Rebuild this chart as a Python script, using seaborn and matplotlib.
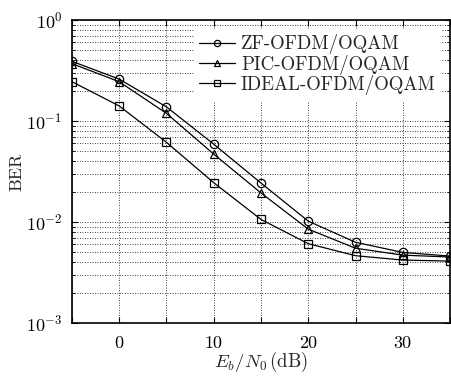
import matplotlib
matplotlib.use("Agg")
import matplotlib.pyplot as plt
import matplotlib.ticker as mticker
import numpy as np
import pandas as pd
import seaborn as sns

snr_db = [-5, 0, 5, 10, 15, 20, 25, 30, 35]
ber_zf = [0.39, 0.26, 0.138, 0.059, 0.0243, 0.0102, 0.0063, 0.0050, 0.0046]
ber_pic = [0.37, 0.245, 0.119, 0.047, 0.0194, 0.0085, 0.0055, 0.0047, 0.0045]
ber_ideal = [0.245, 0.141, 0.0615, 0.0245, 0.0106, 0.0061, 0.00464, 0.0042, 0.0041]
series_names = ["ZF-OFDM/OQAM", "PIC-OFDM/OQAM", "IDEAL-OFDM/OQAM"]
x_ticklabels = ["", "0", "", "10", "", "20", "", "30", ""]

sns.set_style("ticks")
plt.rcParams["font.family"] = ["cmr10", "DejaVu Serif"]
plt.rcParams["mathtext.fontset"] = "cm"
plt.rcParams["axes.formatter.use_mathtext"] = True
plt.rcParams["axes.unicode_minus"] = False

rows = []
for name, vals in zip(series_names, [ber_zf, ber_pic, ber_ideal]):
    for x, y in zip(snr_db, vals):
        rows.append({"snr": x, "ber": y, "series": name})
df = pd.DataFrame(rows)

fig = plt.figure(figsize=(4.51, 3.78), dpi=100)
ax = fig.add_axes([0.1596, 0.1455, 0.8382, 0.8015])

sns.lineplot(data=df, x="snr", y="ber", hue="series", style="series",
             markers={"ZF-OFDM/OQAM": "o", "PIC-OFDM/OQAM": "^", "IDEAL-OFDM/OQAM": "s"},
             dashes=False, palette=["black"] * 3, ax=ax, linewidth=0.9,
             markersize=6, markerfacecolor="none", markeredgecolor="black",
             markeredgewidth=0.9, hue_order=series_names, style_order=series_names)

ax.set_yscale("log")
ax.set_xlim(-5, 35)
ax.set_ylim(1e-3, 1)
ax.set_xticks(snr_db)
ax.set_xticklabels(x_ticklabels)
ax.yaxis.set_major_locator(mticker.LogLocator(base=10, numticks=10))
ax.yaxis.set_minor_locator(mticker.LogLocator(base=10, subs=np.arange(2, 10), numticks=20))
ax.yaxis.set_minor_formatter(mticker.NullFormatter())

ax.grid(True, which="major", axis="both", linestyle=(0, (1, 2)), color="black", linewidth=0.6)
ax.grid(True, which="minor", axis="y", linestyle=(0, (1, 2)), color="black", linewidth=0.6)
ax.tick_params(which="both", direction="in", top=True, right=True, labelsize=13, colors="black")
ax.tick_params(which="major", length=4, width=0.8)
ax.tick_params(axis="x", which="major", pad=9)
ax.tick_params(axis="y", which="major", pad=7)
ax.tick_params(which="minor", length=2, width=0.6)
for s in ax.spines.values():
    s.set_linewidth(1.2)
    s.set_color("black")

ax.set_xlabel(r"$E_b/N_0\,$(dB)", fontsize=13.5, labelpad=-1)
ax.set_ylabel("BER", fontsize=13, labelpad=1)

leg = ax.legend(loc="upper right", fontsize=13.6, frameon=True, fancybox=False,
                framealpha=1, edgecolor="none", handlelength=1.9, handletextpad=0.3,
                borderaxespad=0.45, labelspacing=0.02, borderpad=0.3)
leg.get_frame().set_linewidth(0)
for h in leg.legend_handles:
    h.set_markersize(4.5)

fig.savefig("out.png", dpi=100)
